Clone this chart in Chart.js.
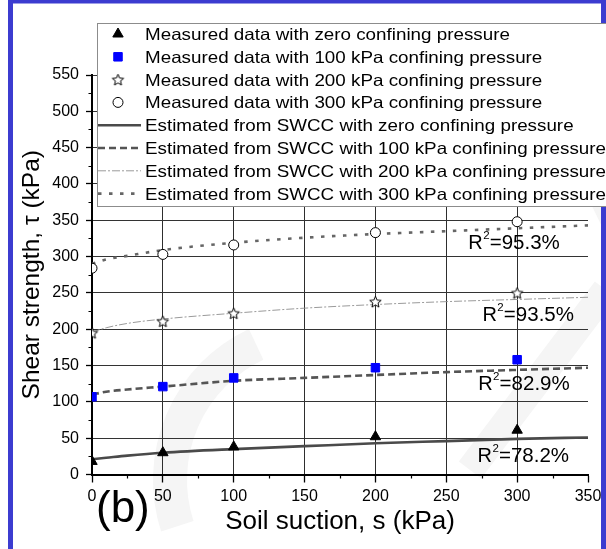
<!DOCTYPE html>
<html>
<head>
<meta charset="utf-8">
<script src="https://cdn.jsdelivr.net/npm/chart.js@4.4.0/dist/chart.umd.min.js"></script>
<style>
  html, body { margin: 0; padding: 0; background: #fff; }
  #wrap { width: 606px; height: 549px; }
</style>
</head>
<body>
<div id="wrap"><canvas id="chart" width="606" height="549"></canvas></div>
<script>
'use strict';

/* ---- data ---- */
const suction = [0, 50, 100, 200, 300];
const measuredZero = [18, 30, 38, 52, 61];
const measured100 = [107, 121, 133, 147, 158];
const measured200 = [195, 211, 222, 238, 250];
const measured300 = [284, 303, 316, 333, 348];

const fitSuction = [0, 10, 25, 50, 100, 150, 200, 250, 300, 350];
const fitZero = [21, 23, 26, 30, 35, 39, 43, 46, 49, 51];
const fit100 = [110, 114, 117, 121, 129, 133, 137, 141, 144, 147];
const fit200 = [196, 202, 208, 214, 222, 229, 234, 238, 241, 244];
const fit300 = [290, 296, 301, 309, 319, 326, 331, 335, 339, 343];

const seriesLabels = [
  'Measured data with zero confining pressure',
  'Measured data with 100 kPa confining pressure',
  'Measured data with 200 kPa confining pressure',
  'Measured data with 300 kPa confining pressure',
  'Estimated from SWCC with zero confining pressure',
  'Estimated from SWCC with 100 kPa confining pressure',
  'Estimated from SWCC with 200 kPa confining pressure',
  'Estimated from SWCC with 300 kPa confining pressure'
];

// R² notes, anchored in data units (s, tau)
const rSquared = ['95.3%', '93.5%', '82.9%', '78.2%'];
const rAnchors = [[265.5, 310], [275.5, 211], [272.5, 116], [272, 17]];

const FONT = "'Liberation Sans', Arial, sans-serif";

function pairs(xs, ys) {
  return xs.map((x, i) => ({ x: x, y: ys[i] }));
}

function makeStar(r) {
  const c = document.createElement('canvas');
  const size = Math.ceil(r * 2 + 3);
  c.width = size; c.height = size;
  const g = c.getContext('2d');
  const cx = size / 2, cy = size / 2 + 0.6;
  g.beginPath();
  for (let k = 0; k < 10; k++) {
    const rad = k % 2 === 0 ? r : r * 0.45;
    const a = -Math.PI / 2 + k * Math.PI / 5;
    const px = cx + rad * Math.cos(a), py = cy + rad * Math.sin(a);
    if (k === 0) g.moveTo(px, py); else g.lineTo(px, py);
  }
  g.closePath();
  g.fillStyle = '#fff';
  g.fill();
  g.strokeStyle = '#000';
  g.lineWidth = 1;
  g.stroke();
  return c;
}
const starImg = makeStar(6);

function measured(label, ys, style, radius, fill, stroke) {
  return {
    label: label, data: pairs(suction, ys), showLine: false,
    pointStyle: style, pointRadius: radius, pointHoverRadius: radius,
    pointBackgroundColor: fill, pointBorderColor: stroke, pointBorderWidth: 1
  };
}
function fitted(label, ys, color, width, dash) {
  return {
    label: label, data: pairs(fitSuction, ys), showLine: true,
    borderColor: color, borderWidth: width, borderDash: dash,
    pointRadius: 0, tension: 0.4, cubicInterpolationMode: 'monotone', fill: false
  };
}

const datasets = [
  measured(seriesLabels[0], measuredZero, 'triangle', 6, '#000', '#000'),
  measured(seriesLabels[1], measured100, 'rect', 6, '#0000ff', '#0000ff'),
  measured(seriesLabels[2], measured200, starImg, 6, '#fff', '#000'),
  measured(seriesLabels[3], measured300, 'circle', 5, '#fff', '#000'),
  fitted(seriesLabels[4], fitZero, '#4a4a4a', 2.6, []),
  fitted(seriesLabels[5], fit100, '#555', 2.6, [7, 4]),
  fitted(seriesLabels[6], fit200, '#9a9a9a', 1, [8, 2, 2, 2]),
  fitted(seriesLabels[7], fit300, '#666', 2.6, [3.5, 7.5])
];

function drawMarker(ctx, ds, x, y) {
  const r = ds.pointRadius;
  const style = ds.pointStyle;
  ctx.save();
  ctx.setLineDash([]);
  if (typeof style === 'object') {
    ctx.drawImage(style, x - style.width / 2, y - style.height / 2);
    ctx.restore();
    return;
  }
  ctx.fillStyle = ds.pointBackgroundColor;
  ctx.strokeStyle = ds.pointBorderColor;
  ctx.lineWidth = ds.pointBorderWidth;
  ctx.beginPath();
  if (style === 'triangle') {
    ctx.moveTo(x, y - r);
    ctx.lineTo(x + r * 0.866, y + r * 0.5);
    ctx.lineTo(x - r * 0.866, y + r * 0.5);
    ctx.closePath();
  } else if (style === 'rect') {
    const s = r * Math.SQRT1_2;
    ctx.rect(x - s, y - s, 2 * s, 2 * s);
  } else {
    ctx.arc(x, y, r, 0, Math.PI * 2);
  }
  ctx.fill();
  ctx.stroke();
  ctx.restore();
}

const decorPlugin = {
  id: 'decor',
  beforeDraw(chart) {
    const ctx = chart.ctx;
    ctx.save();
    ctx.fillStyle = '#fff';
    ctx.fillRect(0, 0, chart.width, chart.height);
    // faint watermark
    ctx.strokeStyle = '#f5f5f5';
    ctx.fillStyle = '#f5f5f5';
    ctx.lineWidth = 34;
    ctx.beginPath();
    ctx.arc(320, 480, 150, Math.PI * 0.9, Math.PI * 1.36);
    ctx.stroke();
    ctx.beginPath();
    ctx.moveTo(530, 78); ctx.lineTo(556, 78); ctx.lineTo(606, 170); ctx.lineTo(606, 235);
    ctx.closePath();
    ctx.fill();
    ctx.lineWidth = 28;
    ctx.beginPath();
    ctx.moveTo(470, 470); ctx.lineTo(606, 290);
    ctx.stroke();
    // blue frame
    ctx.fillStyle = '#3c3cd0';
    ctx.fillRect(8, 0, 598, 3.5);
    ctx.fillRect(8, 0, 5, chart.height);
    ctx.fillRect(601, 0, 5, chart.height);
    ctx.restore();
  },
  afterDraw(chart) {
    const ctx = chart.ctx;
    const xs = chart.scales.x, ys = chart.scales.y;
    const area = chart.chartArea;
    ctx.save();
    // minor ticks
    ctx.strokeStyle = '#000';
    ctx.lineWidth = 1.2;
    ctx.beginPath();
    for (let v = 25; v < 350; v += 50) {
      const px = Math.round(xs.getPixelForValue(v)) + 0.5;
      ctx.moveTo(px, area.bottom); ctx.lineTo(px, area.bottom + 4);
    }
    for (let v = 25; v < 550; v += 50) {
      const py = Math.round(ys.getPixelForValue(v)) + 0.5;
      ctx.moveTo(area.left, py); ctx.lineTo(area.left - 3.5, py);
    }
    ctx.stroke();

    // R² notes
    ctx.fillStyle = '#000';
    ctx.textBaseline = 'alphabetic';
    rSquared.forEach((txt, i) => {
      const px = xs.getPixelForValue(rAnchors[i][0]);
      const py = ys.getPixelForValue(rAnchors[i][1]);
      ctx.font = '20px ' + FONT;
      ctx.fillText('R', px, py);
      const w = ctx.measureText('R').width;
      ctx.font = '11.5px ' + FONT;
      ctx.fillText('2', px + w + 0.5, py - 10);
      ctx.font = '20.5px ' + FONT;
      ctx.fillText('=' + txt, px + w + 7, py);
    });

    // panel tag
    ctx.font = '44px ' + FONT;
    ctx.fillText('(b)', 96, 522);

    // legend box
    ctx.fillStyle = '#fff';
    ctx.fillRect(97.5, 23.5, 520, 183);
    ctx.strokeStyle = '#8c8c8c';
    ctx.lineWidth = 1;
    ctx.strokeRect(97.5, 23.5, 520, 183);
    chart.data.datasets.forEach((ds, i) => {
      const y = 34 + i * 22.8;
      if (ds.showLine) {
        ctx.save();
        ctx.strokeStyle = ds.borderColor;
        ctx.lineWidth = ds.borderWidth;
        ctx.setLineDash(ds.borderDash);
        ctx.beginPath();
        ctx.moveTo(98, y); ctx.lineTo(141, y);
        ctx.stroke();
        ctx.restore();
      } else {
        drawMarker(ctx, ds, 118, y);
      }
      ctx.save();
      ctx.fillStyle = '#000';
      ctx.font = '16.5px ' + FONT;
      ctx.translate(145, y + 5.9);
      ctx.scale(1.14, 1);
      ctx.fillText(ds.label, 0, 0);
      ctx.restore();
    });
    ctx.restore();
  }
};

new Chart(document.getElementById('chart'), {
  type: 'scatter',
  data: { datasets: datasets },
  options: {
    responsive: false,
    animation: false,
    devicePixelRatio: 1,
    layout: { padding: { left: 14, right: 18, top: 75, bottom: 0 } },
    plugins: { legend: { display: false }, tooltip: { enabled: false } },
    scales: {
      x: {
        type: 'linear', min: 0, max: 350,
        afterFit: (scale) => { scale.height = 74.5; },
        ticks: { stepSize: 50, color: '#000', padding: 4, font: { family: FONT, size: 16 } },
        grid: {
          color: (c) => (c.tick && (c.tick.value === 0 || c.tick.value === 350)) ? 'rgba(0,0,0,0)' : '#2e2e2e',
          lineWidth: 1, tickLength: 8, tickColor: '#000', tickWidth: 1.3
        },
        border: { display: true, color: '#000', width: 2 },
        title: {
          display: true, text: 'Soil suction, s (kPa)', color: '#000',
          font: { family: FONT, size: 26 }, padding: { top: 0, bottom: 11.7 }
        }
      },
      y: {
        type: 'linear', min: 0, max: 550,
        afterFit: (scale) => { scale.width = 78; },
        ticks: { stepSize: 50, color: '#000', padding: 7, font: { family: FONT, size: 16 } },
        grid: {
          color: (c) => (c.tick && c.tick.value === 0) ? 'rgba(0,0,0,0)' : '#333',
          lineWidth: 1, tickLength: 6, tickColor: '#000', tickWidth: 1.3
        },
        border: { display: true, color: '#000', width: 2 },
        title: {
          display: true, text: 'Shear strength, τ (kPa)', color: '#000',
          font: { family: FONT, size: 24.5 }, padding: { top: 4, bottom: 0 }
        }
      }
    }
  },
  plugins: [decorPlugin]
});
</script>
</body>
</html>
